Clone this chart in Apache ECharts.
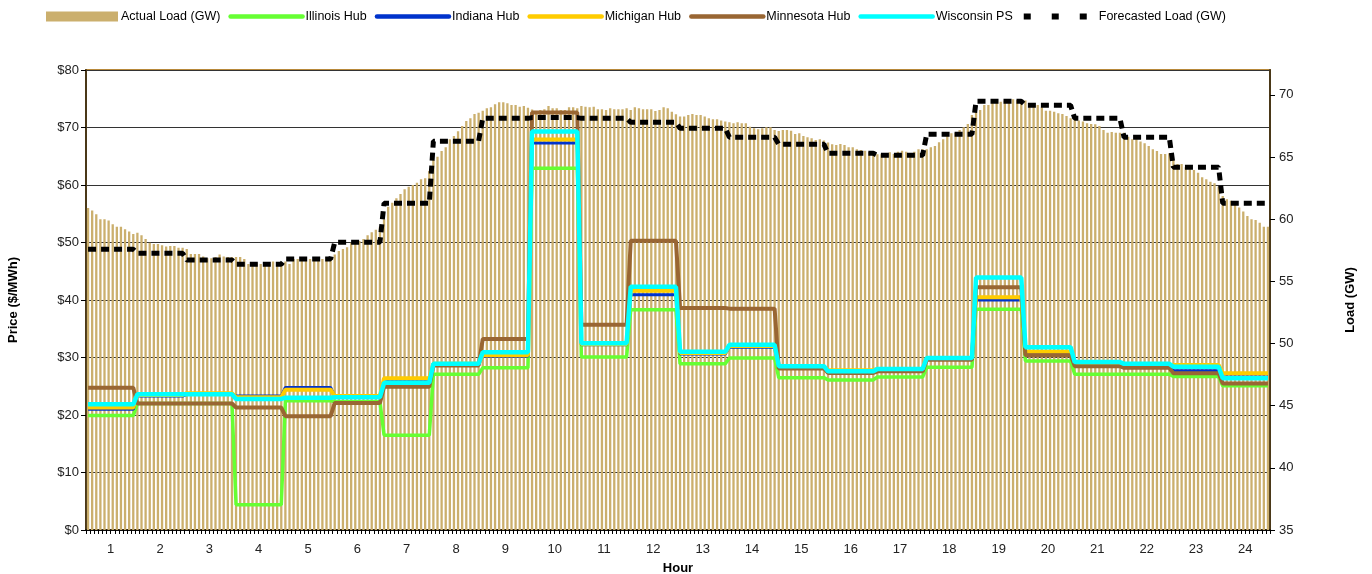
<!DOCTYPE html>
<html>
<head>
<meta charset="utf-8">
<script src="https://cdn.jsdelivr.net/npm/echarts@6/dist/echarts.min.js"></script>
<style>
html,body{margin:0;padding:0;background:#fff;}
#chart{width:1372px;height:574px;}
</style>
</head>
<body>
<div id="chart"></div>
<script>
// Hour tick labels
const hours = ['1','2','3','4','5','6','7','8','9','10','11','12','13','14','15','16','17','18','19','20','21','22','23','24'];

// Actual load (GW), 5-minute intervals (12 per hour)
const actualLoad = [
60.9,60.7,60.4,60.0,60.0,59.9,59.6,59.4,59.4,59.2,59.0,58.8,
58.9,58.7,58.4,58.1,58.0,58.0,57.9,57.8,57.85,57.85,57.7,57.7,
57.6,57.2,57.2,57.2,57.0,56.85,56.85,56.95,57.15,57.0,56.95,56.95,
56.95,56.95,56.8,56.4,56.45,56.45,56.4,56.4,56.45,56.6,56.45,56.5,
56.6,56.4,56.8,56.8,56.95,56.95,56.8,56.7,56.8,56.8,56.95,56.95,
57.15,57.45,57.6,57.75,58.1,58.25,58.25,58.4,58.7,58.95,59.15,59.4,
60.0,61.0,61.33,61.68,62.03,62.4,62.61,62.75,62.94,63.21,63.29,63.88,
64.76,65.03,65.49,65.78,66.43,66.69,67.07,67.5,67.9,68.12,68.46,68.57,
68.73,68.92,69.0,69.24,69.4,69.4,69.32,69.19,69.19,69.05,69.1,68.97,
68.83,68.57,68.78,68.84,69.1,68.92,68.92,68.78,68.78,69.0,69.0,68.92,
69.1,69.05,69.0,69.05,68.84,68.84,68.78,68.92,68.84,68.84,68.84,68.92,
68.78,69.0,68.92,68.84,68.84,68.84,68.7,68.78,69.0,68.92,68.65,68.45,
68.25,68.25,68.38,68.46,68.38,68.38,68.25,68.11,68.03,68.03,67.93,67.85,
67.79,67.71,67.79,67.71,67.71,67.44,67.31,67.23,67.31,67.39,67.39,67.18,
67.1,67.18,67.18,67.12,66.85,66.91,66.69,66.6,66.51,66.37,66.43,66.32,
66.16,66.02,65.97,66.05,65.97,65.78,65.78,65.62,65.57,65.51,65.41,65.3,
65.22,65.22,65.25,65.38,65.25,65.43,65.51,65.43,65.16,65.43,65.62,65.62,
65.62,65.78,65.89,66.18,66.43,66.69,66.91,66.96,67.18,67.39,67.66,68.38,
68.65,68.78,69.19,69.19,69.59,69.54,69.45,69.54,69.59,69.64,69.59,69.59,
69.54,69.32,69.27,69.19,69.0,68.73,68.73,68.65,68.52,68.46,68.3,68.11,
68.03,67.93,67.85,67.71,67.66,67.63,67.5,67.18,66.96,67.02,66.96,66.96,
66.96,66.64,66.43,66.43,66.24,66.1,65.89,65.62,65.49,65.25,65.25,65.3,
64.76,64.44,64.44,64.17,64.01,63.96,63.74,63.37,63.21,63.02,62.9,62.62,
61.87,61.6,61.49,61.14,60.95,60.61,60.26,59.99,59.94,59.72,59.4,59.4
];

// Hourly prices ($/MWh)
const illinoisHub  = [19.9,22.0,22.0,4.4,22.5,22.3,16.5,27.1,28.2,62.9,30.1,38.3,28.9,29.9,26.5,26.1,26.6,28.3,38.4,29.4,27.1,27.1,26.7,25.1];
const indianaHub   = [21.0,23.3,23.6,23.3,24.8,23.2,25.8,28.9,30.2,67.3,32.2,40.9,30.6,31.8,28.2,27.6,27.9,29.7,40.0,30.8,28.9,28.6,27.7,26.6];
const michiganHub  = [21.3,23.5,23.8,23.1,24.4,23.3,26.4,28.9,30.4,67.9,32.3,41.6,30.8,32.0,28.3,27.8,28.0,29.9,40.5,31.0,28.9,28.6,28.7,27.25];
const minnesotaHub = [24.75,22.0,22.0,21.3,19.8,22.1,24.9,28.6,33.2,72.6,35.7,50.3,38.6,38.5,28.1,27.3,27.6,29.6,42.2,30.4,28.5,28.2,27.25,25.5];
const wisconsinPS  = [21.85,23.6,23.6,22.8,23.0,23.1,25.6,28.9,30.9,69.3,32.5,42.3,31.0,32.2,28.5,27.6,28.0,29.9,43.9,31.8,29.2,28.9,28.4,26.4];

// Forecasted load (GW), hourly
const forecastLoad = [57.58,57.26,56.72,56.37,56.8,58.14,61.28,66.27,68.11,68.17,68.11,67.79,67.31,66.59,66.02,65.3,65.14,66.83,69.48,69.16,68.11,66.59,64.18,61.28];

const PER_HOUR = 12;
const slots = actualLoad.map((_, i) => String(i));
const expand = arr => arr.flatMap(v => Array(PER_HOUR).fill(v));

const FONT = '"Liberation Sans", Arial, sans-serif';

function lineSeries(name, data, color, width, yIdx, dash) {
  return {
    name, type: 'line', data: expand(data), xAxisIndex: 0, yAxisIndex: yIdx,
    symbol: 'none', smooth: false,
    lineStyle: { color, width, type: dash || 'solid' },
    itemStyle: { color },
    emphasis: { disabled: true }, silent: true
  };
}

function legendLine(name, width, type) {
  return { name, itemStyle: { opacity: 0 }, lineStyle: { width, type: type || 'solid', cap: 'round' } };
}

const chart = echarts.init(document.getElementById('chart'), null, { renderer: 'canvas' });
chart.setOption({
  animation: false,
  backgroundColor: '#fff',
  textStyle: { fontFamily: FONT },
  legend: {
    left: 46, top: 10, padding: 0,
    itemWidth: 72, itemHeight: 10, itemGap: 8,
    textStyle: { fontFamily: FONT, fontSize: 12.5, color: '#000', padding: [0,0,0,-2] },
    data: [
      { name: 'Actual Load (GW)', icon: 'rect' },
      legendLine('Illinois Hub', 4.5),
      legendLine('Indiana Hub', 4.5),
      legendLine('Michigan Hub', 4.5),
      legendLine('Minnesota Hub', 4.5),
      legendLine('Wisconsin PS', 4.5),
      { name: 'Forecasted Load (GW)', itemStyle: { opacity: 0 }, lineStyle: { width: 6, type: [7, 21], cap: 'butt' } }
    ]
  },
  grid: { left: 86, right: 102, top: 70, bottom: 44, containLabel: false, outerBoundsMode: 'none', show: true, borderColor: '#B8893A', borderWidth: 2, backgroundColor: 'transparent' },
  xAxis: [
    {
      type: 'category', data: slots, boundaryGap: true,
      axisLine: { lineStyle: { color: '#000', width: 1.5 } },
      axisTick: { show: true, interval: 0, length: 4, lineStyle: { color: '#000' } },
      axisLabel: { show: false }, splitLine: { show: false }
    },
    {
      type: 'category', data: hours, position: 'bottom', boundaryGap: true,
      axisLine: { show: false }, axisTick: { show: false },
      axisLabel: { fontFamily: FONT, fontSize: 13, color: '#222', margin: 13 },
      splitLine: { show: false },
      name: 'Hour', nameLocation: 'middle', nameGap: 32,
      nameTextStyle: { fontFamily: FONT, fontSize: 13, fontWeight: 'bold', color: '#000' }
    }
  ],
  yAxis: [
    {
      type: 'value', min: 0, max: 80, interval: 10, position: 'left',
      axisLine: { show: true, lineStyle: { color: '#4a3818', width: 2 } },
      axisTick: { show: true, length: 5, lineStyle: { color: '#000' } },
      axisLabel: { formatter: v => '$' + v, fontFamily: FONT, fontSize: 13, color: '#222', margin: 7 },
      splitLine: { show: true, lineStyle: { color: '#333', width: 1 } },
      name: 'Price ($/MWh)', nameLocation: 'middle', nameGap: 66,
      nameTextStyle: { fontFamily: FONT, fontSize: 13, fontWeight: 'bold', color: '#000' }
    },
    {
      type: 'value', min: 35, max: 72, interval: 5, position: 'right',
      axisLine: { show: true, lineStyle: { color: '#4a3818', width: 2 } },
      axisTick: { show: true, length: 5, lineStyle: { color: '#000' } },
      axisLabel: { fontFamily: FONT, fontSize: 13, color: '#222', margin: 9, showMaxLabel: false },
      splitLine: { show: false },
      name: 'Load (GW)', nameLocation: 'middle', nameGap: 74,
      nameTextStyle: { fontFamily: FONT, fontSize: 13, fontWeight: 'bold', color: '#000' }
    }
  ],
  series: [
    {
      name: 'Actual Load (GW)', type: 'bar', data: actualLoad, xAxisIndex: 0, yAxisIndex: 1,
      barWidth: '56%', itemStyle: { color: '#CBAF6D' }, silent: true
    },
    lineSeries('Illinois Hub', illinoisHub, '#66FF33', 3.5, 0),
    lineSeries('Indiana Hub', indianaHub, '#0033CC', 3, 0),
    lineSeries('Michigan Hub', michiganHub, '#FFCC00', 4, 0),
    lineSeries('Minnesota Hub', minnesotaHub, '#996633', 4, 0),
    lineSeries('Wisconsin PS', wisconsinPS, '#00FFFF', 4.5, 0),
    lineSeries('Forecasted Load (GW)', forecastLoad, '#000000', 5, 1, [8, 5])
  ]
});
</script>
</body>
</html>
